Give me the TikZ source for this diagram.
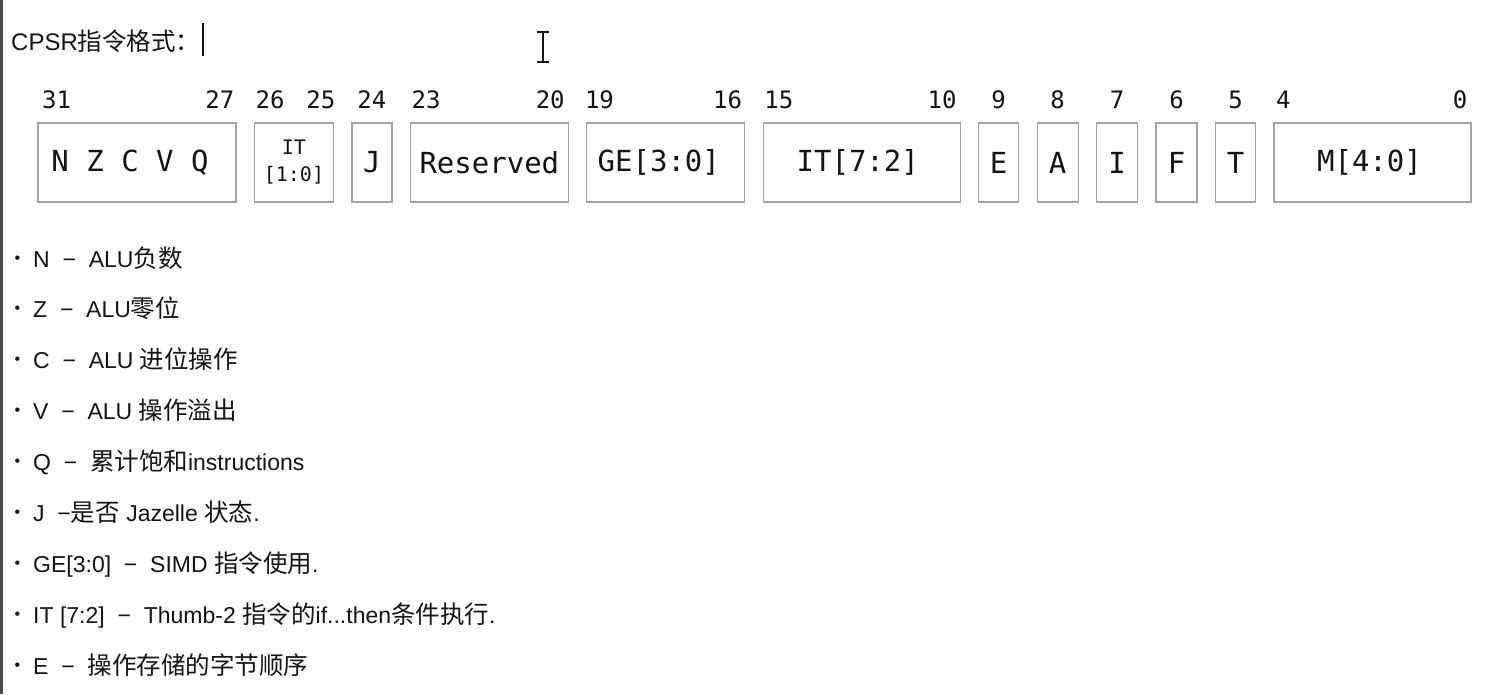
\documentclass[tikz,border=0pt]{standalone}
\usepackage{fontspec}
\setmainfont{Liberation Sans}
\setmonofont{DejaVu Sans Mono}
\newfontfamily\cjk{Noto Sans CJK SC}
\newcommand{\zh}[1]{{\cjk\fontsize{24.5}{27}\selectfont #1}}
\newcommand{\bul}{\makebox[19pt][l]{\hspace*{0.5pt}\raisebox{4pt}{\fontsize{16}{16}\selectfont •}}}
\newcommand{\dsh}{−}
\usetikzlibrary{chains, positioning}
\definecolor{boxgray}{HTML}{A3A3A3}
\definecolor{edgebar}{HTML}{434C5A}
\definecolor{ink}{HTML}{141414}

\begin{document}
\begin{tikzpicture}[
   x=1pt, y=1pt,
   start chain = going right,
   node distance = 18.45pt,
   text = ink,
   field/.style = {draw=boxgray, line width=1.3pt, outer sep=0pt, inner sep=0pt,
      minimum height=79pt, font=\ttfamily\fontsize{29}{32}\selectfont},
   bitno/.style = {inner sep=0pt, font=\ttfamily\fontsize{24}{26}\selectfont},
   item/.style = {inner sep=0pt, anchor=base west, font=\fontsize{23}{26}\selectfont}]
   \fill[white] (0,0) rectangle (1511,-694);
   \useasboundingbox (0,0) rectangle (1511,-694);
   \fill[edgebar] (0,0) rectangle (3,-694);

   % title line with text caret and mouse cursor
   \node[item, font=\fontsize{24}{27}\selectfont] (title) at (11,-50) {CPSR\zh{指令格式：}};
   \coordinate (caret) at (203,-23);
   \draw[ink, line width=1.6pt] (caret) -- ++(0,-33);
   \coordinate (ibeam) at (543,-32);
   \draw[ink, line width=1.4pt] (ibeam) ++(-6,0) -- ++(12,0) (ibeam) -- ++(0,-30) ++(-6,0) -- ++(12,0);

   % register fields
   \node[field, on chain, anchor=north west, minimum width=198pt] (nzcvq) at (38,-123) {N Z C V Q\kern14pt};
   \node[field, on chain, minimum width=79pt, align=center,
         font=\ttfamily\fontsize{20}{27}\selectfont] (it10) {IT\\{[1:0]}};
   \node[field, on chain, minimum width=40pt]  (j) {J};
   \node[field, on chain, minimum width=158pt] (res) {Reserved};
   \node[field, on chain, minimum width=158pt] (ge) {GE[3:0]\kern14pt};
   \node[field, on chain, minimum width=197pt] (it72) {IT[7:2]\kern8pt};
   \node[field, on chain, minimum width=40pt]  (e) {E};
   \node[field, on chain, minimum width=41pt]  (a) {A};
   \node[field, on chain, minimum width=41pt]  (i) {I};
   \node[field, on chain, minimum width=41pt]  (f) {F};
   \node[field, on chain, minimum width=40pt]  (t) {T};
   \node[field, on chain, minimum width=197pt] (m) {M[4:0]\kern6pt};

   % bit numbers
   \node[bitno, above right=15pt and 4pt of nzcvq.north west, anchor=base west] (b31) {31};
   \node[bitno, above left=15pt and 1.5pt of nzcvq.north east, anchor=base east] (b27) {27};
   \node[bitno, above right=15pt and 1pt of it10.north west, anchor=base west] (b26) {26};
   \node[bitno, above right=15pt and 2pt of it10.north east, anchor=base east] (b25) {25};
   \node[bitno, above=15pt of j.north, anchor=base] (b24) {24};
   \node[bitno, above right=15pt and 1pt of res.north west, anchor=base west] (b23) {23};
   \node[bitno, above left=15pt and 3.5pt of res.north east, anchor=base east] (b20) {20};
   \node[bitno, above left=15pt and 2pt of ge.north west, anchor=base west] (b19) {19};
   \node[bitno, above left=15pt and 2.5pt of ge.north east, anchor=base east] (b16) {16};
   \node[bitno, above right=15pt and 1pt of it72.north west, anchor=base west] (b15) {15};
   \node[bitno, above left=15pt and 3.5pt of it72.north east, anchor=base east] (b10) {10};
   \node[bitno, above=15pt of e.north, anchor=base] (b9) {9};
   \node[bitno, above=15pt of a.north, anchor=base] (b8) {8};
   \node[bitno, above=15pt of i.north, anchor=base] (b7) {7};
   \node[bitno, above=15pt of f.north, anchor=base] (b6) {6};
   \node[bitno, above=15pt of t.north, anchor=base] (b5) {5};
   \node[bitno, above right=15pt and 2pt of m.north west, anchor=base west] (b4) {4};
   \node[bitno, above left=15pt and 3.5pt of m.north east, anchor=base east] (b0) {0};

   % flag descriptions
   \node[item] (dn) at (14,-267) {\bul N~~\dsh~~ALU\zh{负数}};
   \node[item, below=50.9pt of dn.base west, anchor=base west] (dz) {\bul Z~~\dsh~~ALU\zh{零位}};
   \node[item, below=50.9pt of dz.base west, anchor=base west] (dc) {\bul C~~\dsh~~ALU \zh{进位操作}};
   \node[item, below=50.9pt of dc.base west, anchor=base west] (dv) {\bul V~~\dsh~~ALU \zh{操作溢出}};
   \node[item, below=50.9pt of dv.base west, anchor=base west] (dq) {\bul Q~~\dsh~~\zh{累计饱和}instructions};
   \node[item, below=50.9pt of dq.base west, anchor=base west] (dj) {\bul J~~\dsh\zh{是否} Jazelle \zh{状态}.};
   \node[item, below=50.9pt of dj.base west, anchor=base west] (dge) {\bul GE[3:0]~~\dsh~~SIMD \zh{指令使用}.};
   \node[item, below=50.9pt of dge.base west, anchor=base west] (dit) {\bul IT [7:2]~~\dsh~~Thumb-2 \zh{指令的}if...then\zh{条件执行}.};
   \node[item, below=50.9pt of dit.base west, anchor=base west] (de) {\bul E~~\dsh~~\zh{操作存储的字节顺序}};
\end{tikzpicture}
\end{document}
